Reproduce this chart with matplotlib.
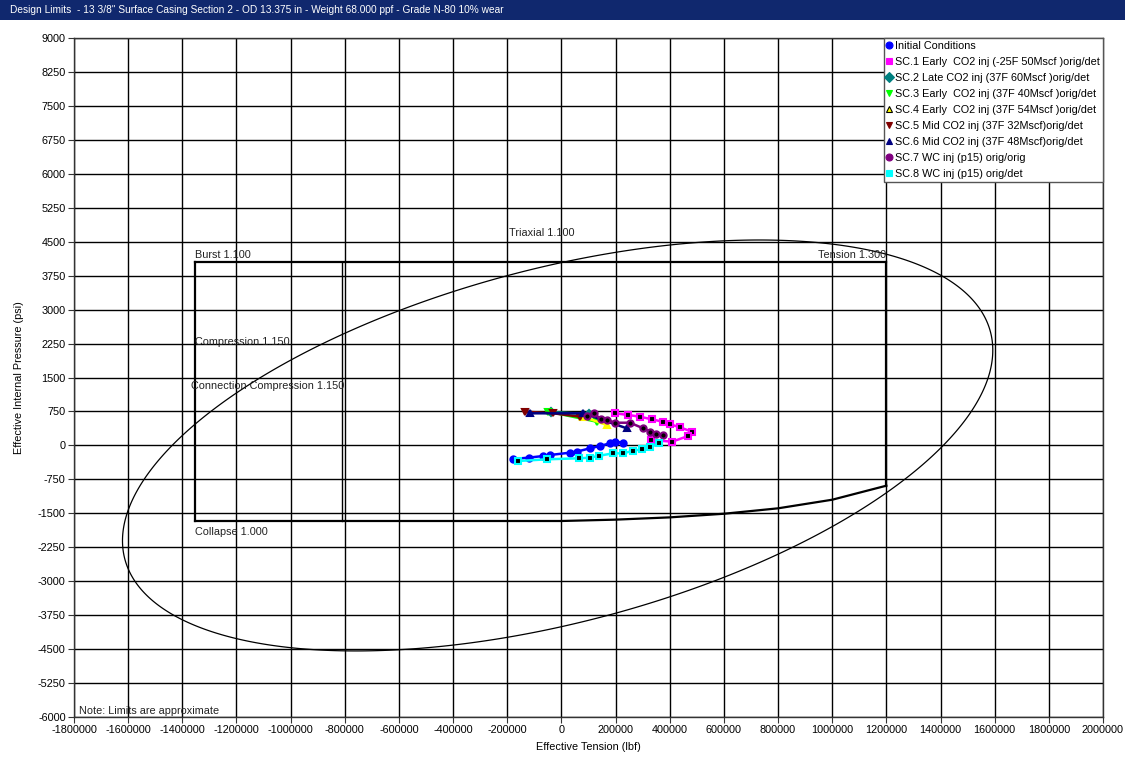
import numpy as np
import matplotlib
matplotlib.use("Agg")
import matplotlib.pyplot as plt
from matplotlib.lines import Line2D
from matplotlib.patches import Rectangle

plt.rcParams['font.family'] = ['Liberation Sans', 'DejaVu Sans']

# ---------------- data ----------------
title = 'Design Limits  - 13 3/8" Surface Casing Section 2 - OD 13.375 in - Weight 68.000 ppf - Grade N-80 10% wear'
x_ticks = list(range(-1800000, 2000001, 200000))
y_ticks = list(range(-6000, 9001, 750))

# design limit geometry (lbf, psi)
burst_p = 4050
compression_t = -1353000
conn_compression_t = -810000
tension_t = 1200000
collapse_t = [-1353000, 0, 200000, 400000, 600000, 800000, 1000000, 1200000]
collapse_p = [-1670, -1670, -1640, -1590, -1510, -1390, -1200, -890]

# points read on the triaxial (von Mises) ellipse
triax_t = [-1637000, -1353000, -1235000, -1002000, -810000, -596000, -13000,
           533000, 747000, 1202000, 1398000, 1509000, 1594000, -762000,
           -5000, -1335000]
triax_p = [-2450, 450, 1003, 1843, 2439, 2991, 4050,
           4538, 4472, 4252, 3744, 3258, 2100, -4520,
           -4030, -3970]

# load cases
init_t = [-178000, -120000, -67000, -42000, 31600, 56000, 105500, 142000, 179000, 198000, 228000]
init_p = [-300, -270, -234, -212, -161, -139, -64, -13, 46, 82, 60]

sc1_t = [197800, 247000, 290000, 333000, 374000, 401000, 438000, 481000, 468000, 409000, 330000]
sc1_p = [709, 672, 634, 577, 524, 467, 400, 303, 208, 82, 120]

sc2_t = [-40000, 100000]
sc2_p = [740, 690]

sc3_t = [-48500, 130000]
sc3_p = [745, 524]

sc4_t = [81000, 167000]
sc4_p = [634, 450]

sc5_t = [-135000, -30000, 68500]
sc5_p = [745, 709, 634]

sc6_t = [-116000, 81000, 241000]
sc6_p = [709, 709, 378]

sc7_t = [95500, 120000, 145000, 169000, 198000, 253000, 302000, 327000, 349000, 376000]
sc7_p = [656, 709, 583, 561, 501, 501, 378, 303, 252, 230]

sc8_t = [-159000, -54500, 66000, 105500, 140000, 191500, 228000, 265000, 296000, 327000, 361000]
sc8_p = [-345, -307, -285, -272, -227, -175, -175, -117, -86, -29, 46]

series = [
    ("Initial Conditions", init_t, init_p, dict(marker='o', color='#0000ff', mfc='#0000ff', mec='#0000ff')),
    ("SC.1 Early  CO2 inj (-25F 50Mscf )orig/det", sc1_t, sc1_p, dict(marker='s', color='#ff00ff', mfc='black', mec='#ff00ff')),
    ("SC.2 Late CO2 inj (37F 60Mscf )orig/det", sc2_t, sc2_p, dict(marker='D', color='#008080', mfc='#008080', mec='#008080')),
    ("SC.3 Early  CO2 inj (37F 40Mscf )orig/det", sc3_t, sc3_p, dict(marker='v', color='#00ff00', mfc='#00ff00', mec='#00ff00')),
    ("SC.4 Early  CO2 inj (37F 54Mscf )orig/det", sc4_t, sc4_p, dict(marker='^', color='#ffff00', mfc='#ffff00', mec='#ffff00')),
    ("SC.5 Mid CO2 inj (37F 32Mscf)orig/det", sc5_t, sc5_p, dict(marker='v', color='#800000', mfc='#800000', mec='#800000')),
    ("SC.6 Mid CO2 inj (37F 48Mscf)orig/det", sc6_t, sc6_p, dict(marker='^', color='#000080', mfc='#000080', mec='#000080')),
    ("SC.7 WC inj (p15) orig/orig", sc7_t, sc7_p, dict(marker='o', color='#800080', mfc='black', mec='#800080')),
    ("SC.8 WC inj (p15) orig/det", sc8_t, sc8_p, dict(marker='s', color='#00ffff', mfc='black', mec='#00ffff')),
]

# ---------------- figure ----------------
W, H = 1125, 758
fig = plt.figure(figsize=(W / 100, H / 100), dpi=100)
fig.patch.set_facecolor('white')

# title bar
fig.patches.append(Rectangle((0, 1 - 20 / H), 1, 20 / H, transform=fig.transFigure,
                             facecolor='#10286e', edgecolor='none', zorder=0))
fig.text(10 / W, 1 - 10 / H, title, color='white', fontsize=7.3, va='center', ha='left')

ax = fig.add_axes([74 / W, 1 - 717 / H, (1103 - 74) / W, (717 - 38) / H])
ax.set_xlim(-1800000, 2000000)
ax.set_ylim(-6000, 9000)
ax.set_xticks(x_ticks)
ax.set_yticks(y_ticks)
ax.set_xticklabels([str(v) for v in x_ticks])
ax.set_yticklabels([str(v) for v in y_ticks])
ax.tick_params(labelsize=7.8, length=4, width=0.8, color='#333333', pad=2)
ax.grid(True, color='black', linewidth=1.0)
ax.set_axisbelow(True)
for s in ax.spines.values():
    s.set_color('#333333')
    s.set_linewidth(1.0)

ax.set_xlabel('Effective Tension (lbf)', fontsize=7.8, labelpad=5)
ax.set_ylabel('Effective Internal Pressure (psi)', fontsize=7.8, labelpad=10)

# ellipse: conic least-squares fit through read points
tx = np.array(triax_t) / 1e6
py = np.array(triax_p) / 1e3
M = np.column_stack([tx ** 2, tx * py, py ** 2, tx, py, np.ones_like(tx)])
_, _, vt = np.linalg.svd(M)
c = vt[-1]
gx = np.linspace(-1.8, 2.0, 1400)
gy = np.linspace(-6.0, 9.0, 1400)
GX, GY = np.meshgrid(gx, gy)
Z = c[0] * GX ** 2 + c[1] * GX * GY + c[2] * GY ** 2 + c[3] * GX + c[4] * GY + c[5]
ax.contour(GX * 1e6, GY * 1e3, Z, levels=[0], colors='black', linewidths=0.9, zorder=3)

# design limit box
lw_box = 1.6
ax.plot([compression_t, tension_t], [burst_p, burst_p], color='black', lw=lw_box, zorder=3)
ax.plot([compression_t, compression_t], [burst_p, collapse_p[0]], color='black', lw=lw_box, zorder=3)
ax.plot([conn_compression_t, conn_compression_t], [burst_p, collapse_p[0]], color='black', lw=1.0, zorder=3)
ax.plot([tension_t, tension_t], [burst_p, collapse_p[-1]], color='black', lw=lw_box, zorder=3)
ax.plot(collapse_t, collapse_p, color='black', lw=lw_box, zorder=3)

tk = dict(fontsize=7.8, color='#222222', zorder=4)
ax.text(-194000, 4690, 'Triaxial 1.100', ha='left', va='center', **tk)
ax.text(tension_t, 4200, 'Tension 1.300', ha='right', va='center', **tk)
ax.text(compression_t, 4200, 'Burst 1.100', ha='left', va='center', **tk)
ax.text(compression_t, 2290, 'Compression 1.150', ha='left', va='center', **tk)
ax.text(-1368000, 1320, 'Connection Compression 1.150', ha='left', va='center', **tk)
ax.text(compression_t, -1906, 'Collapse 1.000', ha='left', va='center', **tk)
ax.text(-1781500, -5860, 'Note: Limits are approximate', ha='left', va='center', **tk)

# load cases
handles = []
for name, t, p, st in series:
    ax.plot(t, p, color=st['color'], lw=1.8, marker=st['marker'], ms=4.5,
            mfc=st['mfc'], mec=st['mec'], mew=1.5, zorder=5)
    handles.append(Line2D([], [], linestyle='none', marker=st['marker'], ms=5,
                          mfc=st['color'], mec=('black' if st['color'] == '#ffff00' else st['color']),
                          mew=0.8, label=name))

leg = ax.legend(handles=handles, loc='upper right', bbox_to_anchor=(1.0, 1.0), borderaxespad=0,
                fontsize=7.8, frameon=True, fancybox=False, framealpha=1, edgecolor='#555555',
                handlelength=0.5, handletextpad=0.25, labelspacing=0.55, borderpad=0.3)
leg.get_frame().set_linewidth(1.0)
leg.set_zorder(10)

fig.savefig('out.png', dpi=100)
